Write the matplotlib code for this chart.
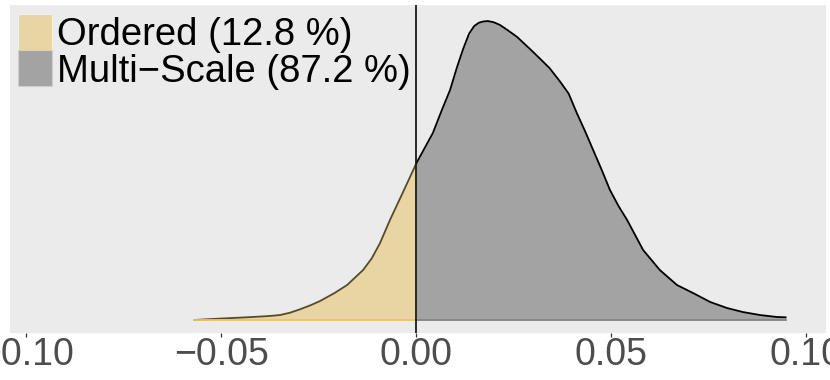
import matplotlib
matplotlib.use("Agg")
import matplotlib.pyplot as plt
from matplotlib.patches import Rectangle
import numpy as np

plt.rcParams['font.family'] = ['Liberation Sans', 'DejaVu Sans']
plt.rcParams['axes.unicode_minus'] = True

# density curve
x_vals = [-0.0570, -0.0522, -0.0435, -0.0380, -0.0350, -0.0325, -0.0300, -0.0270,
          -0.0247, -0.0210, -0.0178, -0.0137, -0.0115, -0.0094, -0.0068, -0.0035,
          0.0000, 0.0042, 0.0065, 0.0086, 0.0104, 0.0120, 0.0135, 0.0148, 0.0160,
          0.0171, 0.0183, 0.0198, 0.0214, 0.0235, 0.0258, 0.0299, 0.0341, 0.0368,
          0.0390, 0.0411, 0.0432, 0.0453, 0.0475, 0.0496, 0.0518, 0.0540, 0.0581,
          0.0624, 0.0668, 0.0709, 0.0753, 0.0796, 0.0837, 0.0881, 0.0924, 0.0947]
density = [0.00, 0.07, 0.18, 0.26, 0.33, 0.48, 0.70, 1.00,
           1.27, 1.80, 2.33, 3.33, 4.10, 5.10, 6.67, 8.50,
           10.47, 12.47, 14.00, 15.33, 16.87, 18.10, 19.10, 19.60, 19.82,
           19.90, 19.93, 19.85, 19.67, 19.30, 18.87, 17.87, 16.80, 15.90,
           15.10, 13.80, 12.60, 11.33, 10.00, 8.67, 7.60, 6.67, 4.67,
           3.33, 2.33, 1.80, 1.20, 0.80, 0.53, 0.33, 0.20, 0.18]

labels = ["Ordered (12.8 %)", "Multi\u2212Scale (87.2 %)"]
fill_colors = ["#E9D5A3", "#A3A3A3"]
line_colors = ["#5E4A16", "#000000"]
base_colors = ["#E8C46E", "#858585"]
xticks = [-0.10, -0.05, 0.00, 0.05, 0.10]

W, H = 830, 380
fig = plt.figure(figsize=(W / 100, H / 100), dpi=100)
fig.patch.set_facecolor("white")
ax = fig.add_axes([10 / W, (H - 333) / H, (826 - 10) / W, (333 - 5) / H])
ax.set_facecolor("#EBEBEB")

x = np.array(x_vals)
d = np.array(density)
left = x <= 0
right = x >= 0

ax.fill_between(x[left], 0, d[left], color=fill_colors[0], lw=0, zorder=1)
ax.fill_between(x[right], 0, d[right], color=fill_colors[1], lw=0, zorder=1)
ax.plot(x[left], d[left], color=line_colors[0], lw=1.3, zorder=2,
        solid_joinstyle='round', solid_capstyle='round')
ax.plot(x[right], d[right], color=line_colors[1], lw=1.3, zorder=2,
        solid_joinstyle='round', solid_capstyle='round')
ax.plot([x[left].min(), 0], [0, 0], color=base_colors[0], lw=1.3, zorder=2)
ax.plot([0, x[right].max()], [0, 0], color=base_colors[1], lw=1.3, zorder=2)
ax.axvline(0, color="#1A1A1A", lw=1.3, zorder=3)

ax.set_xlim(-0.10423, 0.10500)
ax.set_ylim(-0.867, 21.0)
ax.set_xticks(xticks)
ax.set_xticklabels([f"{v:.2f}".replace("-", "\u2212") for v in xticks])
ax.set_yticks([])
ax.tick_params(axis='x', length=3.2, width=0.9, color="#333333", pad=0,
               labelsize=27, labelcolor="#4D4D4D")
for s in ax.spines.values():
    s.set_visible(False)

# legend (manual, inside panel)
key_tops = [14, 50]
baselines = [45, 82]
for i in range(2):
    r = Rectangle((18 / W, (H - key_tops[i] - 36) / H), 34 / W, 36 / H,
                  transform=fig.transFigure, facecolor=fill_colors[i],
                  edgecolor="#F5F0E6" if i == 0 else "#D0D0D0", lw=0.8, zorder=5)
    fig.patches.append(r)
    fig.text(57 / W, (H - baselines[i]) / H, labels[i], fontsize=27.5,
             color="black", va='baseline', ha='left')

fig.savefig("out.png", dpi=100)
